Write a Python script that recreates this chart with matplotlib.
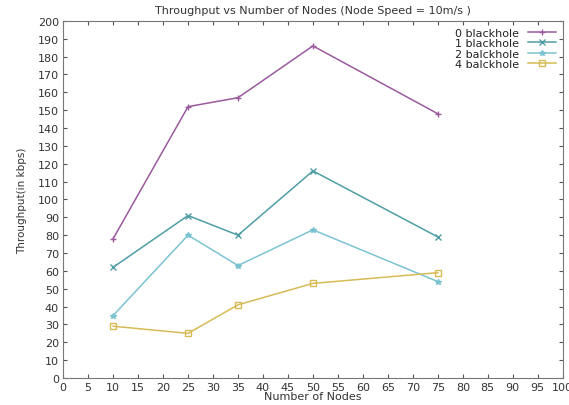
import matplotlib
matplotlib.use("Agg")
import matplotlib.pyplot as plt

nodes = [10, 25, 35, 50, 75]
bh0 = [78, 152, 157, 186, 148]
bh1 = [62, 91, 80, 116, 79]
bh2 = [35, 80, 63, 83, 54]
bh4 = [29, 25, 41, 53, 59]
labels = ["0 blackhole", "1 blackhole", "2 balckhole", "4 balckhole"]
colors = ["#9a5a9e", "#4f9ea6", "#7cc3d2", "#d6bb55"]
markers = ["+", "x", "*", "s"]

fig = plt.figure(figsize=(5.69, 4.06), dpi=100)
ax = fig.add_axes([0.111, 0.0665, 0.878, 0.8795])
for ys, lab, c, m in zip([bh0, bh1, bh2, bh4], labels, colors, markers):
    ax.plot(nodes, ys, color=c, marker=m, markersize=4, lw=1.1, label=lab,
            markerfacecolor="none" if m == "s" else c, markeredgewidth=1)

ax.set_xlim(0, 100)
ax.set_ylim(0, 200)
ax.set_xticks(range(0, 101, 5))
ax.set_yticks(range(0, 201, 10))
ax.tick_params(direction="in", top=True, right=True, labelsize=8, length=3, colors="#555555", labelcolor="#333333", pad=3)
for s in ax.spines.values():
    s.set_color("#777777")
ax.set_xlabel("Number of Nodes", fontsize=8, color="#333333", labelpad=-1)
ax.set_ylabel("Throughput(in kbps)", fontsize=7.5, color="#333333", labelpad=8)
ax.set_title("Throughput vs Number of Nodes (Node Speed = 10m/s )", fontsize=8, color="#333333", pad=6)
leg = ax.legend(loc="upper right", frameon=False, markerfirst=False, fontsize=8,
                handlelength=2.5, labelspacing=0.05, borderaxespad=0.2, alignment="right")
for t in leg.get_texts():
    t.set_color("#222222")
    t.set_ha("right")
fig.savefig("out.png", dpi=100)
